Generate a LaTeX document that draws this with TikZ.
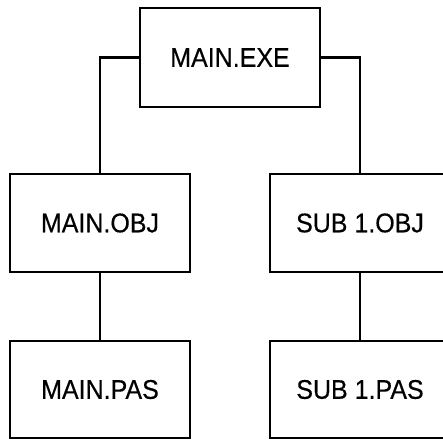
\documentclass[tikz,border=0pt]{standalone}
\usepackage{fontspec}
\setmainfont{Liberation Sans}
\newfontface\boxlabelfont{Liberation Sans}[FakeBold=0.4]
\newcommand{\boxlabel}[1]{\scalebox{1}[1.08]{#1}}
\begin{document}
\begin{tikzpicture}[x=1pt,y=1pt,
  filebox/.style={draw=black, line width=2.3pt, minimum width=180pt,
    minimum height=98pt, inner sep=0pt,
    font=\boxlabelfont\fontsize{25}{30}\selectfont},
  link/.style={draw=black, line width=2.3pt}]
  \useasboundingbox (0,0) rectangle (443,440);
  \clip (0,0) rectangle (443,440);
  % executable at the top
  \node[filebox, minimum height=99pt] (exe) at (230,382.5) {\boxlabel{MAIN.EXE}};
  % object files
  \node[filebox] (mobj) at (100,217) {\boxlabel{MAIN.OBJ}};
  \node[filebox] (sobj) at (360,217) {\boxlabel{SUB 1.OBJ}};
  % source files
  \node[filebox, minimum height=97pt] (mpas) at (100,50.5) {\boxlabel{MAIN.PAS}};
  \node[filebox, minimum height=97pt] (spas) at (360,50.5) {\boxlabel{SUB 1.PAS}};
  % build tree connectors
  \draw[link] (exe.west) -| (mobj.north);
  \draw[link] (exe.east) -| (sobj.north);
  \draw[link] (mobj.south) -- (mpas.north);
  \draw[link] (sobj.south) -- (spas.north);
\end{tikzpicture}
\end{document}
